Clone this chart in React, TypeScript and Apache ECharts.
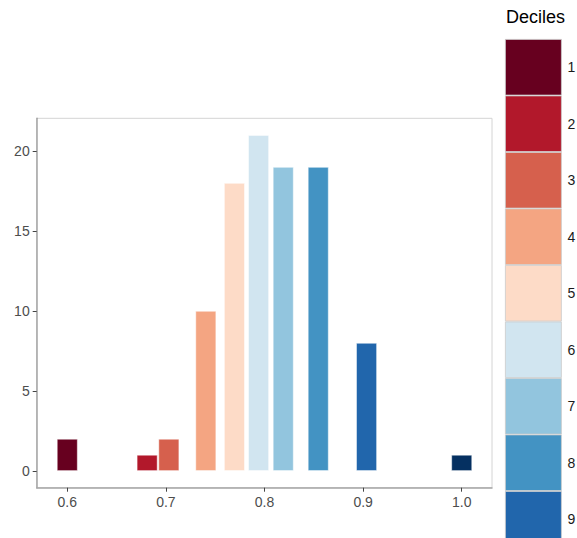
import React, { useEffect, useRef } from "react";
import * as echarts from "echarts";

const deciles = ["1", "2", "3", "4", "5", "6", "7", "8", "9", "10"];
const binCenters = [0.6, 0.681, 0.703, 0.7405, 0.7695, 0.794, 0.819, 0.8545, 0.9035, 1.0];
const counts = [2, 1, 2, 10, 18, 21, 19, 19, 8, 1];
const palette = ["#67001F", "#B2182B", "#D6604D", "#F4A582", "#FDDBC7", "#D1E5F0", "#92C5DE", "#4393C3", "#2166AC", "#053061"];
const xTicks = [0.6, 0.7, 0.8, 0.9, 1.0];
const yTicks = [0, 5, 10, 15, 20];
// legend entries that fit in the 538px-tall page (the 10th key lies below it in the reference)
const legendShown = deciles.slice(0, 9);

const FONT = "'Liberation Sans', Arial, sans-serif";

export default function App() {
  const ref = useRef<HTMLDivElement>(null);
  useEffect(() => {
    document.body.style.margin = "0";
    const chart = echarts.init(ref.current!, undefined, { renderer: "svg" });
    const series = deciles.map((d, i) => ({
      type: "bar",
      name: d,
      barWidth: 20.7,
      barGap: "-100%",
      data: [[binCenters[i], counts[i]]],
      itemStyle: { color: palette[i], borderColor: "rgba(255,255,255,0.8)", borderWidth: 0.6 },
    }));
    chart.setOption({
      animation: false,
      backgroundColor: "#ffffff",
      textStyle: { fontFamily: FONT },
      title: {
        text: "Deciles",
        left: 506,
        top: 8,
        padding: 0,
        textStyle: { fontSize: 18, fontWeight: "normal", color: "#000000", fontFamily: FONT },
      },
      legend: {
        orient: "vertical",
        left: 505,
        top: 39,
        height: 620,
        padding: 0,
        itemGap: 0,
        itemWidth: 56,
        itemHeight: 55.7,
        icon: "rect",
        selectedMode: false,
        itemStyle: { borderColor: "#cccccc", borderWidth: 0.8 },
        textStyle: { fontSize: 14, color: "#1a1a1a", fontFamily: FONT, padding: [0, 0, 0, 1] },
        data: legendShown,
      },
      grid: {
        left: 36.7,
        right: 85,
        top: 118.3,
        bottom: 50.3,
        show: true,
        borderColor: "#d4d4d4",
        borderWidth: 1,
        containLabel: false,
      },
      xAxis: {
        type: "value",
        min: 0.569,
        max: 1.0307,
        splitLine: { show: false },
        axisLine: { show: true, onZero: false, lineStyle: { color: "#a6a6a6", width: 1.5 } },
        axisTick: { show: true, length: 4, customValues: xTicks, lineStyle: { color: "#444444", width: 1 } },
        axisLabel: {
          customValues: xTicks,
          formatter: (v: number) => v.toFixed(1),
          fontSize: 14,
          color: "#4d4d4d",
          margin: 7,
          fontFamily: FONT,
        },
      },
      yAxis: {
        type: "value",
        min: -1.05,
        max: 22.05,
        splitLine: { show: false },
        axisLine: { show: true, onZero: false, lineStyle: { color: "#a6a6a6", width: 1.5 } },
        axisTick: { show: true, length: 4, customValues: yTicks, lineStyle: { color: "#444444", width: 1 } },
        axisLabel: {
          customValues: yTicks,
          fontSize: 14,
          color: "#4d4d4d",
          margin: 7,
          fontFamily: FONT,
        },
      },
      series,
    });
    return () => chart.dispose();
  }, []);
  return <div ref={ref} style={{ width: 577, height: 538, position: "absolute", left: 0, top: 0 }} />;
}
